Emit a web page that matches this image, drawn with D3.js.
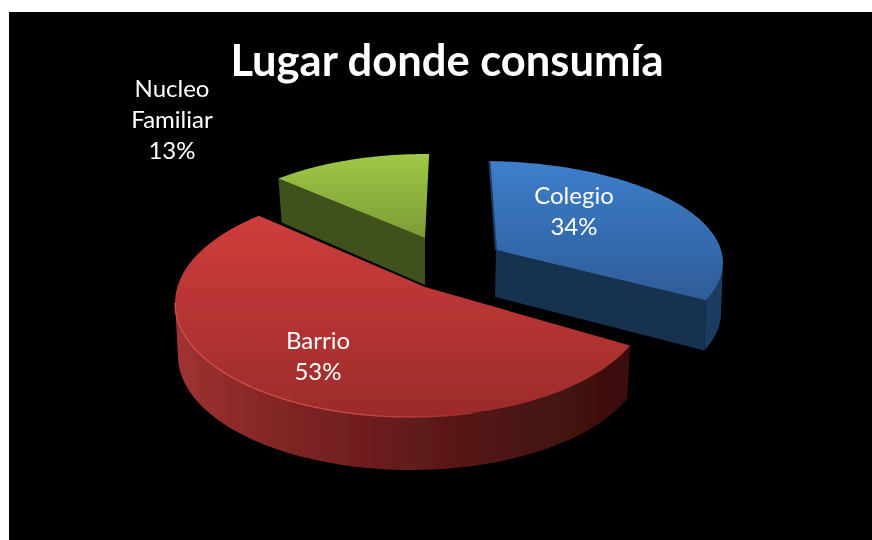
<!DOCTYPE html>
<html><head><meta charset="utf-8">
<script src="https://cdn.jsdelivr.net/npm/d3@7"></script>
<style>html,body{margin:0;padding:0;background:#fff}svg{display:block}text{font-family:Lato,"Open Sans",sans-serif;fill:#fff;text-anchor:middle}</style>
</head><body><svg id="c" width="872" height="540"></svg>
<script>
const title = "Lugar donde consumía";
const categories = ["Colegio", "Barrio", "Nucleo Familiar"];
const values = [34, 53, 13];
const labelLines = [["Colegio"], ["Barrio"], ["Nucleo", "Familiar"]];

// Drawing layout of each slice (separate from the values): perspective ellipses and apexes.
const layouts = [
  { top:{cx:481,cy:263,rx:242,ry:102}, bot:{cx:480,cy:313,rx:241,ry:102}, apex:[496,250], apexB:[495,297], phi0:-88, stretch:0.8946, cut:"end",
    topFill:["#3e7ecb","#2d5b96"], topY:[160,305], wall:[["#1c3b60",0],["#1c3b60",1]], cutFill:"#17304f", label:[574,204], edge:"#1d3f6b" },
  { top:{cx:411,cy:303,rx:236,ry:114}, bot:{cx:411,cy:356,rx:233,ry:114}, apex:[425,287], apexB:[425,340], phi0:21.9, stretch:1.09, cut:null,
    topFill:["#cf3d3c","#9c2b2a"], topY:[216,417], wall:[["#a03232",0],["#7c2323",.28],["#5f1a1a",.55],["#461312",.8],["#3c1010",1]], cutFill:"#5f1a1a", label:[318,349], edge:null },
  { top:{cx:426,cy:254,rx:225,ry:100}, bot:{cx:426,cy:298,rx:220,ry:100}, apex:[425,238], apexB:[425,285], phi0:229, stretch:0.893, cut:"start",
    topFill:["#9ec846","#7c9c36"], topY:[154,238], wall:[["#3f501c",0],["#3f501c",1]], cutFill:"#3f511d", label:[172,97], edge:null }
];

const svg = d3.select("#c");
const defs = svg.append("defs");
defs.append("filter").attr("id","soft").attr("x",0).attr("y",0).attr("width",1).attr("height",1)
  .attr("filterUnits","userSpaceOnUse").attr("x",0).attr("y",0).attr("width",872).attr("height",540)
  .append("feGaussianBlur").attr("stdDeviation",0.6);
svg.append("rect").attr("x",9).attr("y",12).attr("width",863).attr("height",528).attr("fill","#000");
const root = svg.append("g").attr("filter","url(#soft)");

const pie = d3.pie().sort(null).startAngle(0).endAngle(2*Math.PI);
const arcs = pie(values);
const rad = Math.PI/180;
const pt = (e,phi)=>[e.cx+e.rx*Math.cos(phi*rad), e.cy+e.ry*Math.sin(phi*rad)];
const line = d3.line();

function samples(a,b,n=90){ return d3.range(n+1).map(i=>a+(b-a)*i/n); }

function linGrad(id,x1,y1,x2,y2,stops){
  const g=defs.append("linearGradient").attr("id",id).attr("gradientUnits","userSpaceOnUse")
    .attr("x1",x1).attr("y1",y1).attr("x2",x2).attr("y2",y2);
  stops.forEach(s=>g.append("stop").attr("offset",s[1]).attr("stop-color",s[0]));
  return `url(#${id})`;
}

// back-to-front order: green, blue, red
[2,0,1].forEach(i=>{
  const L=layouts[i], d=arcs[i];
  const toPhi=d3.scaleLinear().domain([d.startAngle,d.endAngle])
    .range([L.phi0, L.phi0+(d.endAngle-d.startAngle)/rad*L.stretch]);
  const p0=toPhi(d.startAngle), p1=toPhi(d.endAngle);
  const g=root.append("g");

  // outer wall: only the part of the rim facing the viewer
  const wa=Math.max(p0,0), wb=Math.min(p1,180);
  if(wb>wa){
    const ph=samples(wa,wb);
    const poly=ph.map(p=>pt(L.top,p)).concat(ph.slice().reverse().map(p=>pt(L.bot,p)));
    const xs=poly.map(q=>q[0]);
    const fill=linGrad("w"+i,d3.min(xs),0,d3.max(xs),0,L.wall);
    g.append("path").attr("d",line(poly)+"Z").attr("fill",fill);
  }
  // cut face
  if(L.cut){
    const p=L.cut==="end"?p1:p0;
    g.append("path").attr("d",line([L.apex,pt(L.top,p),pt(L.bot,p),L.apexB])+"Z").attr("fill",L.cutFill);
  }
  // top face
  const topPts=[L.apex].concat(samples(p0,p1).map(p=>pt(L.top,p)));
  const fill=linGrad("t"+i,0,L.topY[0],0,L.topY[1],[[L.topFill[0],0],[L.topFill[1],1]]);
  g.append("path").attr("d",line(topPts)+"Z").attr("fill",fill);
  if(L.edge) g.append("path").attr("d",line([pt(L.top,p0),L.apex])).attr("fill","none").attr("stroke",L.edge).attr("stroke-width",2);
  // rim highlight on the front of the large slice
  if(i===1){
    const hl=linGrad("hl",175,0,480,0,[["#d4504a",0],["#cf4c46",.6],["#9e2c2b",1]]);
    g.append("path").attr("d",line(samples(75,180).map(p=>pt(L.top,p)))).attr("fill","none").attr("stroke",hl).attr("stroke-width",1.3);
  }
});

// labels
categories.forEach((c,i)=>{
  const L=layouts[i];
  const lines=labelLines[i].concat([values[i]+"%"]);
  const t=root.append("text").attr("font-size",24);
  lines.forEach((s,k)=>t.append("tspan").attr("x",L.label[0]).attr("y",L.label[1]+k*31).text(s));
});
root.append("text").attr("x",447).attr("y",76).attr("font-size",43.5).attr("font-weight",700).text(title);
</script></body></html>
